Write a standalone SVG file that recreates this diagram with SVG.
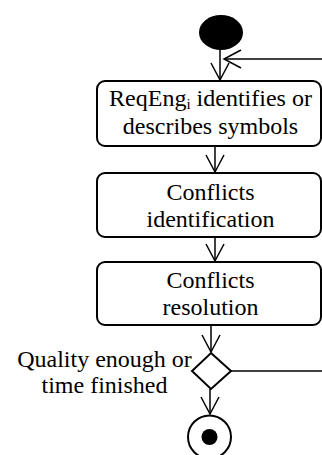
<svg xmlns="http://www.w3.org/2000/svg" width="322" height="455" viewBox="0 0 322 455">
  <style>
    .box { fill: #fff; stroke: #000; stroke-width: 2; }
    .lbl { font-family: 'Liberation Serif', 'Times New Roman', serif; font-size: 24px; fill: #000; text-anchor: middle; }
    .sub { font-size: 15px; }
    .edge { fill: none; stroke: #000; stroke-width: 1.5; }
  </style>
  <defs>
    <!-- open V-shaped arrowhead shared by all control-flow edges -->
    <marker id="open" viewBox="-19 -11 21 22" refX="0" refY="0" markerWidth="21" markerHeight="22" markerUnits="userSpaceOnUse" orient="auto">
      <path d="M-17,-9 L0,0 L-17,9" fill="none" stroke="#000" stroke-width="1.5"/>
    </marker>
  </defs>

  <g id="connectors">
    <line class="edge" x1="220" y1="50" x2="220" y2="80" marker-end="url(#open)"/>
    <line class="edge" x1="322" y1="59" x2="224" y2="59" marker-end="url(#open)"/>
    <line class="edge" x1="215" y1="146" x2="215" y2="172" marker-end="url(#open)"/>
    <line class="edge" x1="215" y1="237" x2="215" y2="261" marker-end="url(#open)"/>
    <line class="edge" x1="211" y1="325" x2="211" y2="352" marker-end="url(#open)"/>
    <line class="edge" x1="231" y1="371" x2="322" y2="371"/>
    <line class="edge" x1="210" y1="389" x2="210" y2="414" marker-end="url(#open)"/>
  </g>

  <g id="start">
    <ellipse cx="221" cy="32.5" rx="22" ry="17.5" fill="#000"/>
  </g>

  <g id="describe">
    <rect class="box" x="97" y="81" width="224" height="65" rx="8"/>
    <text class="lbl" x="210.5" y="106">ReqEng<tspan class="sub" dy="3">i</tspan><tspan dy="-3"> identifies or</tspan></text>
    <text class="lbl" x="210.5" y="134">describes symbols</text>
  </g>

  <g id="identification">
    <rect class="box" x="97" y="173" width="224" height="64" rx="8"/>
    <text class="lbl" x="210.5" y="200">Conflicts</text>
    <text class="lbl" x="210.5" y="227">identification</text>
  </g>

  <g id="resolution">
    <rect class="box" x="97" y="262" width="224" height="63" rx="8"/>
    <text class="lbl" x="210.5" y="288">Conflicts</text>
    <text class="lbl" x="210.5" y="315">resolution</text>
  </g>

  <g id="decision">
    <polygon points="211,353 231,371 211,389 192,371" fill="#fff" stroke="#000" stroke-width="2"/>
    <text class="lbl" x="104.5" y="367">Quality enough or</text>
    <text class="lbl" x="104.5" y="393">time finished</text>
  </g>

  <g id="end">
    <circle cx="209.5" cy="437" r="21.5" fill="#fff" stroke="#000" stroke-width="2"/>
    <circle cx="209.5" cy="437" r="8" fill="#000"/>
  </g>
</svg>
